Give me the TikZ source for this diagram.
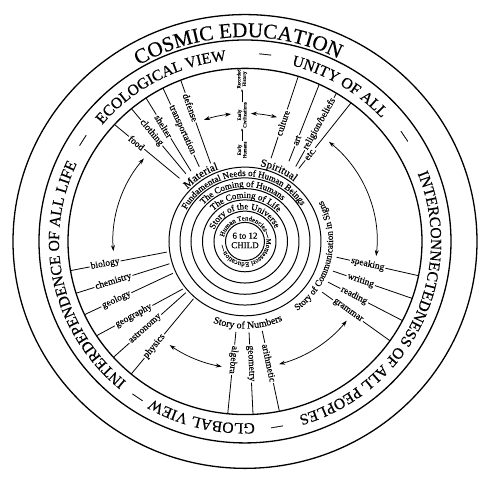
\documentclass[tikz,border=0pt]{standalone}
\usepackage{fontspec}
\setmainfont{Liberation Serif}[FakeBold=0.35]
\usetikzlibrary{decorations.text,arrows.meta}
\newcommand\cosmicfont{\fontsize{21}{22}\selectfont}
\newcommand\bandfont{\fontsize{15.5}{16}\selectfont}
\newcommand\ringfont{\fontsize{9}{10}\selectfont}
\newcommand\tinyringfont{\fontsize{6.8}{7}\selectfont}
\newcommand\matfont{\fontsize{11}{12}\selectfont}
\newcommand\commfont{\fontsize{9.2}{10}\selectfont}
\newcommand\numfont{\fontsize{10}{11}\selectfont}
\newcommand\histfont{\fontsize{5}{5.5}\selectfont}
\newcommand\arctext[5]{%
  \path[decorate,decoration={text along path,text align=center,text={|#4|#5}}]
    (#2:#1) arc[start angle=#2,end angle=#3,radius=#1];}
\newcommand\spoke[7]{%
  \draw[spoke] (#2:#3) -- node[lbl,pos=#6] (#1) {#7} (#4:#5);}
\tikzset{
  ring/.style={line width=1pt},
  bigring/.style={line width=1.3pt},
  spoke/.style={line width=0.8pt},
  lbl/.style={font=\fontsize{9.5}{10}\selectfont,fill=white,inner sep=1.2pt,sloped,allow upside down},
  dbl/.style={line width=0.75pt,{Stealth[length=6pt,width=4pt]}-{Stealth[length=6pt,width=4pt]}},
  uparrow/.style={line width=0.5pt,-{Stealth[length=2.5pt,width=2pt]}},
  hist/.style={font=\histfont,rotate=90,align=center,inner sep=0.5pt},
  dashmark/.style={font=\fontsize{12}{12}\selectfont,inner sep=0pt},
}
\begin{document}
\begin{tikzpicture}[x=1pt,y=0.978pt]
\fill[white] (-245,246.9) rectangle (246,-246.9);
\useasboundingbox (-245,246.9) rectangle (246,-246.9);
% big rings
\draw[bigring] (0,0) circle[radius=232];
\draw[bigring] (0,0) circle[radius=206];
\draw[bigring] (0,0) circle[radius=177];
% inner rings
\foreach \r in {19.5,31,42.5,54,65,76} \draw[ring] (0,0) circle[radius=\r];
% outer band text
\arctext{209}{150}{34}{\cosmicfont}{COSMIC EDUCATION}
\arctext{186}{148}{88}{\bandfont}{ECOLOGICAL VIEW}
\arctext{186}{89}{29}{\bandfont}{UNITY OF ALL}
\arctext{186}{40}{-91}{\bandfont}{INTERCONNECTEDNESS OF ALL PEOPLES}
\arctext{186}{-73.6}{-133.6}{\bandfont}{GLOBAL VIEW}
\arctext{186}{240}{145}{\bandfont}{INTERDEPENDENCE OF ALL LIFE}
\node[dashmark,rotate=-6] (d1) at (84:191) {—};
\node[dashmark,rotate=-56] (d2) at (34:191) {—};
\node[dashmark,rotate=-170.4] (d3) at (-80.4:191) {—};
\node[dashmark,rotate=-214] (d4) at (-124:191) {—};
\node[dashmark,rotate=57.5] (d5) at (147.5:191) {—};
% ring texts
\arctext{67}{182}{2}{\ringfont}{Fundamental Needs of Human Beings}
\arctext{56}{183}{3}{\ringfont}{The Coming of Humans}
\arctext{44.5}{178.5}{-1.5}{\ringfont}{The Coming of Life}
\arctext{33}{181}{1}{\ringfont}{Story of the Universe}
\path[decorate,decoration={text along path,text align=left,
  text={|\tinyringfont|Human Tendencies—Montessori Education—}}]
  (168:21.5) arc[start angle=168,end angle=-191,radius=21.5];
\node[font=\fontsize{9}{9.5}\selectfont,align=center,inner sep=0pt] (child) at (0,1) {6 to 12\\CHILD};
% group labels
\arctext{78.5}{150}{97}{\matfont}{Material}
\arctext{78.5}{92}{38}{\matfont}{Spiritual}
\arctext{88}{-77.5}{52.5}{\commfont}{Story of Communication in Signs}
\arctext{89}{-118}{-58}{\numfont}{Story of Numbers}
% material spokes
\spoke{food}{137.5}{177}{135.4}{92}{0.34}{food}
\spoke{clothing}{129.9}{177}{130.5}{91}{0.37}{clothing}
\spoke{shelter}{124}{177}{126.9}{90}{0.39}{shelter}
\spoke{transp}{117.6}{177}{120.9}{89}{0.53}{transportation}
\spoke{defense}{111.3}{177}{113.3}{87}{0.33}{defense}
% spiritual spokes
\spoke{culture}{73}{89}{72.5}{177}{0.43}{culture}
\spoke{art}{61.8}{93}{65.2}{177}{0.27}{art}
\spoke{religion}{56.5}{92}{58.9}{177}{0.58}{religion/beliefs}
\spoke{etc}{54.2}{92}{53.2}{177}{0.22}{etc.}
% sciences
\spoke{biology}{189.7}{177}{187.9}{79}{0.36}{biology}
\spoke{chemistry}{197.4}{177}{196.8}{79}{0.40}{chemistry}
\spoke{geology}{205}{177}{204.3}{79}{0.36}{geology}
\spoke{geography}{213}{177}{218}{79}{0.43}{geography}
\spoke{astronomy}{222}{177}{221.5}{79}{0.44}{astronomy}
\spoke{physics}{230}{177}{228.7}{78}{0.37}{physics}
% language
\spoke{speaking}{-10}{93}{-11.4}{177}{0.38}{speaking}
\spoke{writing}{-19}{93}{-19.2}{177}{0.35}{writing}
\spoke{reading}{-26.6}{93}{-27.2}{177}{0.35}{reading}
\spoke{grammar}{-33.9}{93}{-35}{177}{0.38}{grammar}
% numbers
\spoke{algebra}{264.4}{93}{264.4}{177}{0.34}{algebra}
\spoke{geometry}{272.5}{93}{272.6}{177}{0.38}{geometry}
\spoke{arithmetic}{280.7}{93}{281.2}{177}{0.40}{arithmetic}
% history column
\node[hist] (eh) at (-3,93.6) {Early\\Humans};
\node[hist] (ec) at (-3,129.3) {Early\\Civilizations};
\node[hist] (rh) at (-3,166.2) {Recorded\\History};
\draw[uparrow] (eh) -- (ec);
\draw[uparrow] (ec) -- (rh);
% double arrows
\draw[dbl] (140:132) arc[start angle=140,end angle=184.3,radius=132];
\draw[dbl] (108.2:131) arc[start angle=108.2,end angle=96.1,radius=131];
\draw[dbl] (87.4:131) arc[start angle=87.4,end angle=75.9,radius=131];
\draw[dbl] (50.5:132) arc[start angle=50.5,end angle=-6.5,radius=132];
\draw[dbl] (-38.5:130) arc[start angle=-38.5,end angle=-74.8,radius=130];
\draw[dbl] (259.7:130) arc[start angle=259.7,end angle=234.6,radius=130];
\end{tikzpicture}
\end{document}
